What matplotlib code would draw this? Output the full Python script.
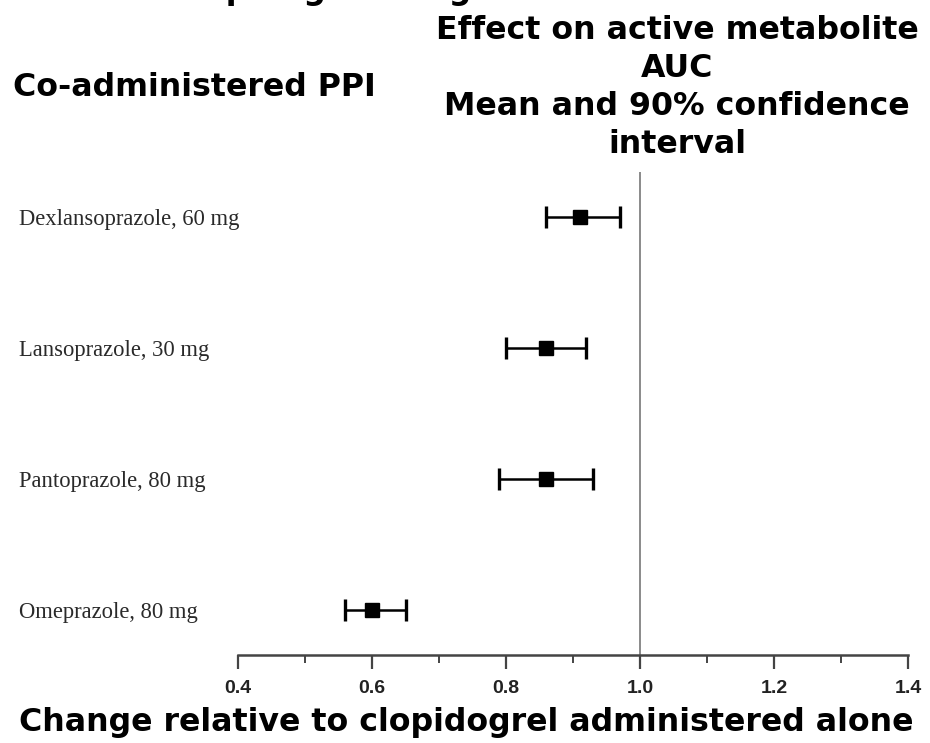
import matplotlib
matplotlib.use("Agg")
import matplotlib.pyplot as plt
from matplotlib.ticker import MultipleLocator

drugs = ["Dexlansoprazole, 60 mg", "Lansoprazole, 30 mg", "Pantoprazole, 80 mg", "Omeprazole, 80 mg"]
means = [0.91, 0.86, 0.86, 0.60]
lower = [0.86, 0.80, 0.79, 0.56]
upper = [0.97, 0.92, 0.93, 0.65]
xticks = [0.4, 0.6, 0.8, 1.0, 1.2, 1.4]
xticklabels = ["0.4", "0.6", "0.8", "1.0", "1.2", "1.4"]

W, H = 930, 743
fig = plt.figure(figsize=(W / 100, H / 100), dpi=100)
ax = fig.add_axes([238 / W, (H - 655) / H, (908 - 238) / W, (655 - 172) / H])

ypos = list(range(len(drugs), 0, -1))
xerr = [[m - l for m, l in zip(means, lower)], [u - m for m, u in zip(means, upper)]]
ax.errorbar(means, ypos, xerr=xerr, fmt="s", color="black", ms=10, lw=1.8,
            capsize=8, capthick=2.4, zorder=3)

ax.axvline(1.0, color="#777777", lw=1.2, zorder=1)

ax.set_xlim(0.4, 1.4)
ax.set_ylim(0.656, 4.344)
for s in ["left", "right", "top"]:
    ax.spines[s].set_visible(False)
ax.spines["bottom"].set_color("#444444")
ax.spines["bottom"].set_linewidth(1.8)

ax.set_xticks(xticks)
ax.set_xticklabels(xticklabels, fontfamily="Liberation Sans", fontweight="bold",
                   fontsize=14, color="#222222")
ax.xaxis.set_minor_locator(MultipleLocator(0.1))
ax.tick_params(axis="x", which="major", length=10, width=1.6, color="#444444", pad=8)
ax.tick_params(axis="x", which="minor", length=6, width=1.4, color="#444444")

ax.set_yticks(ypos)
ax.set_yticklabels(drugs, fontfamily="Liberation Serif", fontsize=16.3, color="#2a2a2a")
ax.tick_params(axis="y", length=0, pad=158)
for lab in ax.get_yticklabels():
    lab.set_horizontalalignment("left")

tfont = dict(fontfamily="DejaVu Sans", fontweight="bold", fontsize=22.8, color="black")
fig.text(170 / W, 1 + 1 / H, "Clopidogrel Drug Interactions", ha="left", va="baseline", **tfont)
fig.text(13 / W, 1 - 88 / H, "Co-administered PPI", ha="left", va="center", **tfont)
fig.text(677 / W, 1 - 15 / H, "Effect on active metabolite\nAUC\nMean and 90% confidence\ninterval",
         ha="center", va="top", linespacing=1.29, **tfont)
fig.text(466 / W, 1 - 722 / H, "Change relative to clopidogrel administered alone",
         ha="center", va="center", **tfont)

fig.savefig("out.png", dpi=100)
